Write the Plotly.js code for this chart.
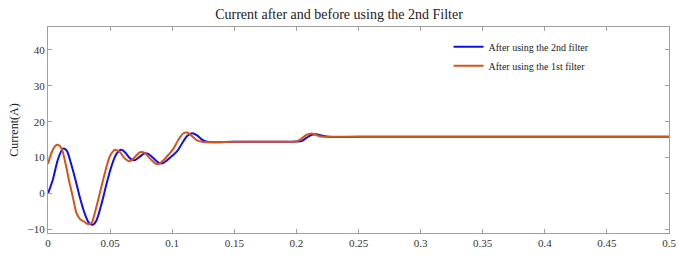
<!DOCTYPE html>
<html>
<head>
<meta charset="utf-8">
<script src="https://cdn.plot.ly/plotly-3.0.1.min.js"></script>
<style>html,body{margin:0;padding:0;background:#fff;}#chart{width:678px;height:260px;}</style>
</head>
<body>
<div id="chart"></div>
<script>
var blueT = [0,0.004,0.008,0.012,0.015,0.018,0.022,0.026,0.030,0.033,0.036,0.039,0.043,0.047,0.051,0.055,0.059,0.062,0.066,0.070,0.074,0.078,0.081,0.085,0.089,0.092,0.096,0.100,0.104,0.108,0.112,0.116,0.120,0.124,0.128,0.135,0.15,0.17,0.19,0.200,0.204,0.208,0.212,0.216,0.220,0.226,0.25,0.5];
var blueV = [0,4,9.5,12.5,12,9,4,-1.5,-6,-8.2,-8.7,-7.5,-3,2.5,7.5,11,12.2,11.5,9.8,9.3,10.3,11.2,11.0,9.8,8.6,8.4,9.3,10.5,11.8,14,16,16.8,16.2,15,14.4,14.3,14.4,14.4,14.4,14.5,14.6,15.5,16.3,16.5,16.2,15.8,15.8,15.8];
var orangeT = [0,0.003,0.006,0.008,0.011,0.014,0.017,0.020,0.023,0.026,0.029,0.032,0.035,0.038,0.042,0.046,0.050,0.054,0.058,0.062,0.066,0.070,0.074,0.078,0.082,0.086,0.089,0.093,0.097,0.101,0.105,0.109,0.112,0.116,0.120,0.124,0.13,0.15,0.17,0.19,0.200,0.204,0.208,0.212,0.216,0.220,0.226,0.5];
var orangeV = [8.3,11.5,13.3,13.6,12.5,8.5,3.5,-1,-5.5,-7.2,-7.8,-8.5,-8.2,-5,0.5,6,10.5,12.2,11.5,9.7,9.0,10.2,11.5,11.3,9.8,8.5,8.2,9.3,10.8,12.5,15,16.8,17.0,16.0,14.8,14.4,14.3,14.4,14.4,14.4,14.5,15.3,16.3,16.7,16.3,15.9,15.8,15.8];
var seriesNames = ["After using the 2nd filter","After using the 1st filter"];
var xTicks = [0,0.05,0.1,0.15,0.2,0.25,0.3,0.35,0.4,0.45,0.5];
var xTickText = ["0","0.05","0.1","0.15","0.2","0.25","0.3","0.35","0.4","0.45","0.5"];
var yTicks = [-10,0,10,20,30,40];

var font = "'Liberation Serif', 'Times New Roman', serif";
var traces = [
  {x: blueT, y: blueV, name: seriesNames[0], mode: "lines", line: {color: "#1010ee", width: 2, shape: "spline", smoothing: 0.8}},
  {x: orangeT, y: orangeV, name: seriesNames[1], mode: "lines", line: {color: "#D95319", width: 2, shape: "spline", smoothing: 0.8}}
];
var axisCommon = {
  showgrid: false, zeroline: false, showline: true, linecolor: "#a0a0a0", linewidth: 1,
  mirror: "ticks", ticks: "inside", ticklen: 4, tickcolor: "#a0a0a0",
  tickfont: {family: font, size: 11, color: "#333"}
};
var layout = {
  width: 678, height: 260,
  margin: {l: 48, r: 9, t: 27, b: 27},
  paper_bgcolor: "#fff", plot_bgcolor: "#fff",
  title: {text: "Current after and before using the 2nd Filter", font: {family: font, size: 14, color: "#222"}, x: 0.5, xanchor: "center", y: 0.945, yanchor: "middle"},
  xaxis: Object.assign({}, axisCommon, {range: [0, 0.5], tickvals: xTicks, ticktext: xTickText}),
  yaxis: Object.assign({}, axisCommon, {range: [-11, 46.4], tickvals: yTicks, title: {text: "Current(A)", font: {family: font, size: 12, color: "#222"}, standoff: 6}}),
  showlegend: true,
  legend: {x: 0.645, y: 0.975, xanchor: "left", yanchor: "top", bgcolor: "rgba(0,0,0,0)", font: {family: font, size: 10, color: "#222"}, tracegroupgap: 0}
};
Plotly.newPlot("chart", traces, layout, {displayModeBar: false, staticPlot: true});
</script>
</body>
</html>
